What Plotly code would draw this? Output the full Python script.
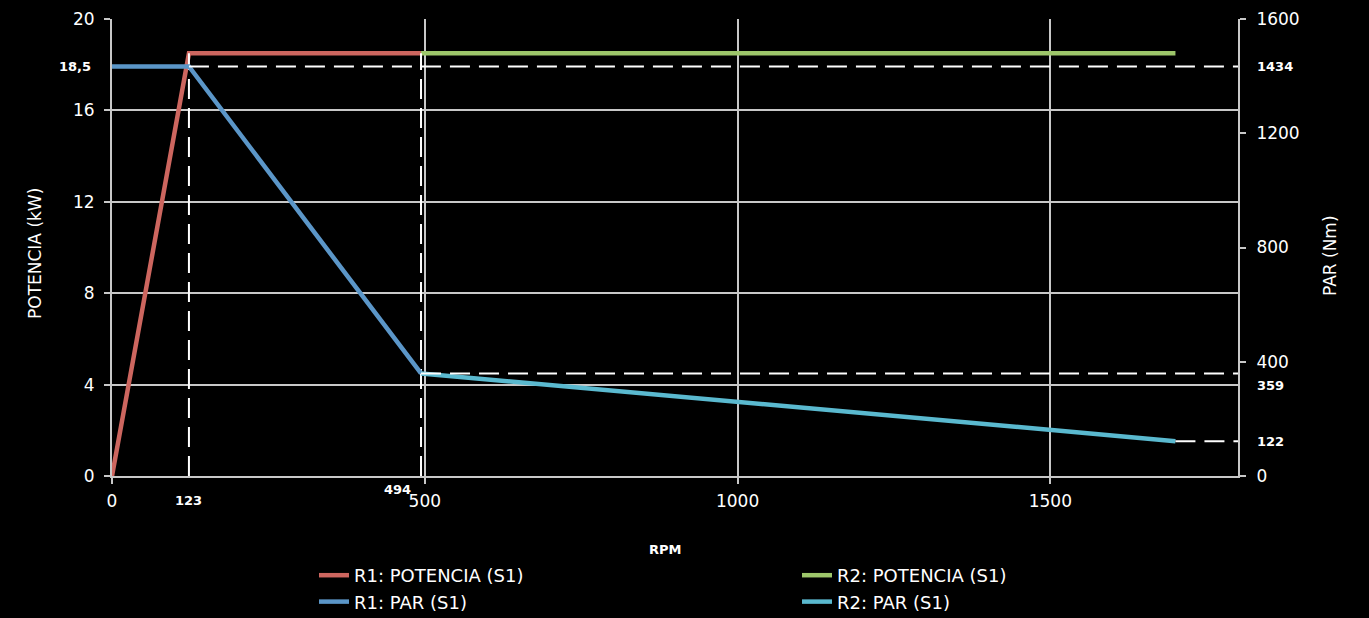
import plotly.graph_objects as go

# ---- data ----
rpm_r1 = [0, 123, 494]
pot_r1 = [0, 18.5, 18.5]
par_r1 = [1434, 1434, 359]
rpm_r2 = [494, 1700]
pot_r2 = [18.5, 18.5]
par_r2 = [359, 122]

x_ticks = [0, 500, 1000, 1500]
y_ticks = [0, 4, 8, 12, 16, 20]
y2_ticks = [0, 400, 800, 1200, 1600]

rpm_marks = [123, 494]
pot_mark = 18.5
par_marks = [1434, 359, 122]

FONT = "DejaVu Sans"
GRID = "#c8c8c8"
W, H = 1369, 618
L, R, T, B = 112, 131, 19, 142
PW, PH = W - L - R, H - T - B

def px_x(px):
    return (px - L) / PW

def px_y(py):
    return (H - B - py) / PH

fig = go.Figure()

fig.add_trace(go.Scatter(x=rpm_r1, y=pot_r1, mode="lines", name="R1: POTENCIA (S1)",
                         line=dict(color="#cd665f", width=4.5), yaxis="y"))
fig.add_trace(go.Scatter(x=rpm_r2, y=pot_r2, mode="lines", name="R2: POTENCIA (S1)",
                         line=dict(color="#9dc66a", width=4.5), yaxis="y"))
fig.add_trace(go.Scatter(x=rpm_r1, y=par_r1, mode="lines", name="R1: PAR (S1)",
                         line=dict(color="#5b96c8", width=4.5), yaxis="y2"))
fig.add_trace(go.Scatter(x=rpm_r2, y=par_r2, mode="lines", name="R2: PAR (S1)",
                         line=dict(color="#5ab9cf", width=4.5), yaxis="y2"))

dash = dict(color="white", width=2, dash="20px,9px")
# vertical reference lines
for xv in rpm_marks:
    fig.add_trace(go.Scatter(x=[xv, xv], y=[0, pot_mark], mode="lines", line=dash,
                             showlegend=False, hoverinfo="skip", yaxis="y"))
# horizontal reference lines
fig.add_trace(go.Scatter(x=[rpm_marks[0], 1800], y=[par_marks[0]] * 2, mode="lines", line=dash,
                         showlegend=False, hoverinfo="skip", yaxis="y2"))
fig.add_trace(go.Scatter(x=[rpm_marks[1], 1800], y=[par_marks[1]] * 2, mode="lines", line=dash,
                         showlegend=False, hoverinfo="skip", yaxis="y2"))
fig.add_trace(go.Scatter(x=[rpm_r2[-1], 1800], y=[par_marks[2]] * 2, mode="lines", line=dash,
                         showlegend=False, hoverinfo="skip", yaxis="y2"))

ann = []
bold = dict(family=FONT, size=13, color="white")
# left special label
ann.append(dict(x=px_x(93), y=par_marks[0], xref="paper", yref="y2", text="<b>18,5</b>",
                showarrow=False, xanchor="right", yanchor="middle", font=bold))
# right special labels
ann.append(dict(x=px_x(1255), y=par_marks[0], xref="paper", yref="y2", text="<b>1434</b>",
                showarrow=False, xanchor="left", yanchor="middle", font=bold))
ann.append(dict(x=px_x(1255), y=px_y(385), xref="paper", yref="paper", text="<b>359</b>",
                showarrow=False, xanchor="left", yanchor="middle", font=bold))
ann.append(dict(x=px_x(1255), y=par_marks[2], xref="paper", yref="y2", text="<b>122</b>",
                showarrow=False, xanchor="left", yanchor="middle", font=bold))
# x special labels
ann.append(dict(x=rpm_marks[0], y=px_y(500), xref="x", yref="paper", text="<b>123</b>",
                showarrow=False, xanchor="center", yanchor="middle", font=bold))
ann.append(dict(x=px_x(413), y=px_y(489), xref="paper", yref="paper", text="<b>494</b>",
                showarrow=False, xanchor="right", yanchor="middle", font=bold))
# axis titles
ann.append(dict(x=px_x(35), y=px_y(254), xref="paper", yref="paper", text="POTENCIA (kW)",
                showarrow=False, textangle=-90, xanchor="center", yanchor="middle",
                font=dict(family=FONT, size=17, color="white")))
ann.append(dict(x=px_x(1330), y=px_y(256), xref="paper", yref="paper", text="PAR (Nm)",
                showarrow=False, textangle=-90, xanchor="center", yanchor="middle",
                font=dict(family=FONT, size=17, color="white")))
ann.append(dict(x=px_x(665), y=px_y(549), xref="paper", yref="paper", text="<b>RPM</b>",
                showarrow=False, xanchor="center", yanchor="middle", font=bold))

axis_common = dict(showline=True, linecolor=GRID, linewidth=2, ticks="outside", tickcolor=GRID,
                   ticklen=6, tickwidth=2, zeroline=False, automargin=False,
                   tickfont=dict(family=FONT, size=17, color="white"))

fig.update_layout(
    width=W, height=H,
    paper_bgcolor="black", plot_bgcolor="black",
    margin=dict(l=L, r=R, t=T, b=B, autoexpand=False),
    font=dict(family=FONT, color="white"),
    xaxis=dict(range=[0, 1800], tickvals=x_ticks, showgrid=True, gridcolor=GRID, gridwidth=2,
               ticklabelstandoff=3, **axis_common),
    yaxis=dict(range=[0, 20], tickvals=y_ticks, showgrid=True, gridcolor=GRID, gridwidth=2,
               ticklabelstandoff=6, **axis_common),
    yaxis2=dict(range=[0, 1600], tickvals=y2_ticks, overlaying="y", side="right", showgrid=False,
                ticklabelstandoff=7, **axis_common),
    showlegend=True,
    legend=dict(orientation="h", x=(314) / W, y=(H - 557) / H, xref="container", yref="container",
                xanchor="left", yanchor="top",
                entrywidth=438, entrywidthmode="pixels", bgcolor="rgba(0,0,0,0)",
                font=dict(family=FONT, size=18, color="white"), traceorder="normal"),
    annotations=ann,
)

fig.write_html("out.html", config={"displayModeBar": False},
               post_script="document.body.style.margin='0';document.body.style.background='black';")
